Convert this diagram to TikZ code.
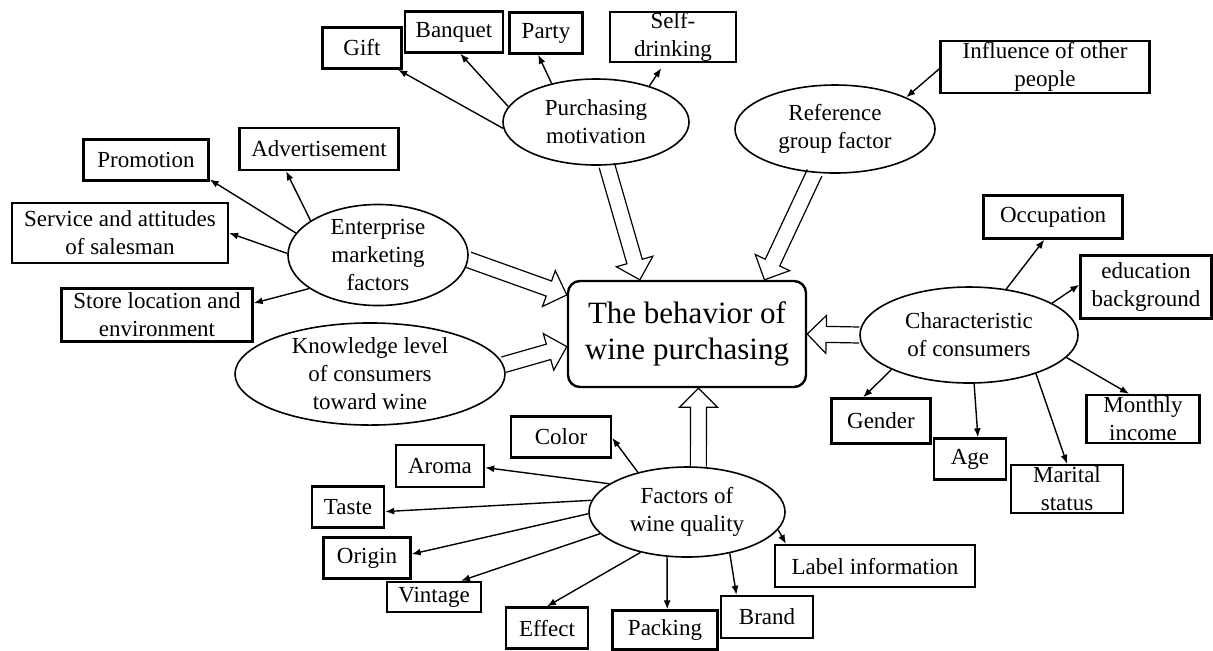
\documentclass[tikz,border=0pt]{standalone}
\usepackage{fontspec}
\setmainfont{Liberation Serif}
\usetikzlibrary{shapes.geometric,arrows.meta,calc}
\tikzset{
  lbl/.style={font=\fontsize{11.5}{14}\selectfont, align=center, inner sep=0pt},
  box/.style={lbl, draw, rectangle, line width=1.2pt},
  oval/.style={lbl, draw, ellipse, line width=0.8pt},
  mainbox/.style={draw, rectangle, rounded corners=6pt, line width=1.2pt, inner sep=0pt, align=center, font=\fontsize{15.5}{18}\selectfont},
  link/.style={-{Latex[length=4.5pt,width=3.5pt]}, line width=0.7pt},
  fat/.style={line width=0.6pt, line join=miter}
}
\newcommand{\hollowarrow}[2]{%
  \draw[fat] let \p1=(#1), \p2=(#2), \n1={atan2(\y2-\y1,\x2-\x1)}, \n2={veclen(\x2-\x1,\y2-\y1)-9.5pt} in
  ($(\p1)+(\n1+90:4pt)$) -- ($(\p1)+(\n1:\n2)+(\n1+90:4pt)$) -- ($(\p1)+(\n1:\n2)+(\n1+90:9.5pt)$) -- (\p2)
  -- ($(\p1)+(\n1:\n2)+(\n1-90:9.5pt)$) -- ($(\p1)+(\n1:\n2)+(\n1-90:4pt)$) -- ($(\p1)+(\n1-90:4pt)$);}
\begin{document}
\begin{tikzpicture}[x=0.5pt,y=-0.5pt]
\useasboundingbox (0,0) rectangle (1213,650);
% top
\node[box, minimum width=39.5pt, minimum height=20.5pt] (gift) at (362,48) {Gift};
\node[box, minimum width=49pt, minimum height=20.5pt] (banquet) at (454,32) {Banquet};
\node[box, minimum width=36.5pt, minimum height=20.5pt] (party) at (546,33) {Party};
\node[box, minimum width=63pt, minimum height=25pt] (self) at (673,37) {Self-\\drinking};
\node[oval, minimum width=93pt, minimum height=43pt] (pm) at (596,122) {Purchasing\\motivation};
\node[box, minimum width=104.5pt, minimum height=26pt] (infl) at (1045,67) {Influence of other\\people};
\node[oval, minimum width=100pt, minimum height=44pt] (rg) at (835,129) {Reference\\group factor};
% left
\node[box, minimum width=62.5pt, minimum height=20.5pt] (promo) at (146,160) {Promotion};
\node[box, minimum width=79.5pt, minimum height=21pt] (adv) at (319,149) {Advertisement};
\node[box, minimum width=108pt, minimum height=30pt] (serv) at (120,233) {Service and attitudes\\of salesman};
\node[oval, minimum width=90pt, minimum height=44pt] (em) at (378,255) {Enterprise\\marketing\\factors};
\node[box, minimum width=95.5pt, minimum height=26.5pt] (store) at (157,315) {Store location and\\environment};
\node[oval, minimum width=135pt, minimum height=51pt] (kl) at (370,374) {Knowledge level\\of consumers\\toward wine};
% centre
\node[mainbox, minimum width=119pt, minimum height=53pt] (cb) at (687,334) {The behavior of\\wine purchasing};
% right
\node[oval, minimum width=109pt, minimum height=48pt] (ch) at (969,335) {Characteristic\\of consumers};
\node[box, minimum width=69.5pt, minimum height=21.5pt] (occ) at (1053,217) {Occupation};
\node[box, minimum width=65.5pt, minimum height=31.5pt] (edu) at (1146,287) {education\\background};
\node[box, minimum width=49.5pt, minimum height=22.5pt] (gender) at (881,421) {Gender};
\node[box, minimum width=36pt, minimum height=20.5pt] (age) at (970,459) {Age};
\node[box, minimum width=56pt, minimum height=24pt] (marital) at (1067,489) {Marital\\status};
\node[box, minimum width=56.5pt, minimum height=24pt] (monthly) at (1143,419) {Monthly\\income};
% bottom
\node[oval, minimum width=98pt, minimum height=45pt] (fq) at (687,512) {Factors of\\wine quality};
\node[box, minimum width=50pt, minimum height=20.5pt] (color) at (561,437) {Color};
\node[box, minimum width=44pt, minimum height=21pt] (aroma) at (440,466) {Aroma};
\node[box, minimum width=36pt, minimum height=20.5pt] (taste) at (348,507) {Taste};
\node[box, minimum width=43.5pt, minimum height=20.5pt] (origin) at (367,558) {Origin};
\node[box, minimum width=47pt, minimum height=15pt] (vintage) at (434,597) {Vintage};
\node[box, minimum width=41pt, minimum height=20.5pt] (effect) at (547,628) {Effect};
\node[box, minimum width=52.5pt, minimum height=19.5pt] (packing) at (665,630) {Packing};
\node[box, minimum width=46pt, minimum height=21pt] (brand) at (767,617) {Brand};
\node[box, minimum width=100pt, minimum height=21pt] (label) at (875,566) {Label information};
% thin arrows
\draw[link] (pm.184) -- (gift.-31);
\draw[link] (pm.170) -- (banquet.-74);
\draw[link] (pm.139) -- (party.-110);
\draw[link, shorten >=3pt] (pm.34) -- (self.-108);
\draw[link] (infl.181) -- (rg.24);
\draw[link] (em.165) -- (promo.-17);
\draw[link] (em.153) -- (adv.-146);
\draw[link] (em.179) -- (serv.0);
\draw[link] (em.206) -- (store.7.6);
\draw[link] (ch.51.6) -- (occ.-111);
\draw[link] (ch.21.9) -- (edu.178);
\draw[link] (ch.204) -- (gender.127);
\draw[link] (ch.-84) -- (age.70);
\draw[link] (ch.-30.4) -- (marital.90);
\draw[link] (ch.-13.9) -- (monthly.119);
\draw[link] (fq.141.5) -- (color.-1);
\draw[link] (fq.160.5) -- (aroma.-2.5);
\draw[link] (fq.173.7) -- (taste.-7);
\draw[link] (fq.181) -- (origin.5);
\draw[link] (fq.194.5) -- (vintage.31);
\draw[link] (fq.221.8) -- (effect.90);
\draw[link] (fq.246) -- (packing.84);
\draw[link] (fq.-44.3) -- (brand.144);
\draw[link] (fq.-11) -- (label.166);
% hollow arrows
\hollowarrow{pm.-76}{cb.131.6}
\hollowarrow{rg.-115.6}{cb.35.7}
\hollowarrow{em.-3.9}{cb.162.7}
\hollowarrow{kl.4.8}{cb.186.2}
\hollowarrow{ch.180}{cb.0}
\hollowarrow{fq.76}{cb.-78.3}
\end{tikzpicture}
\end{document}
